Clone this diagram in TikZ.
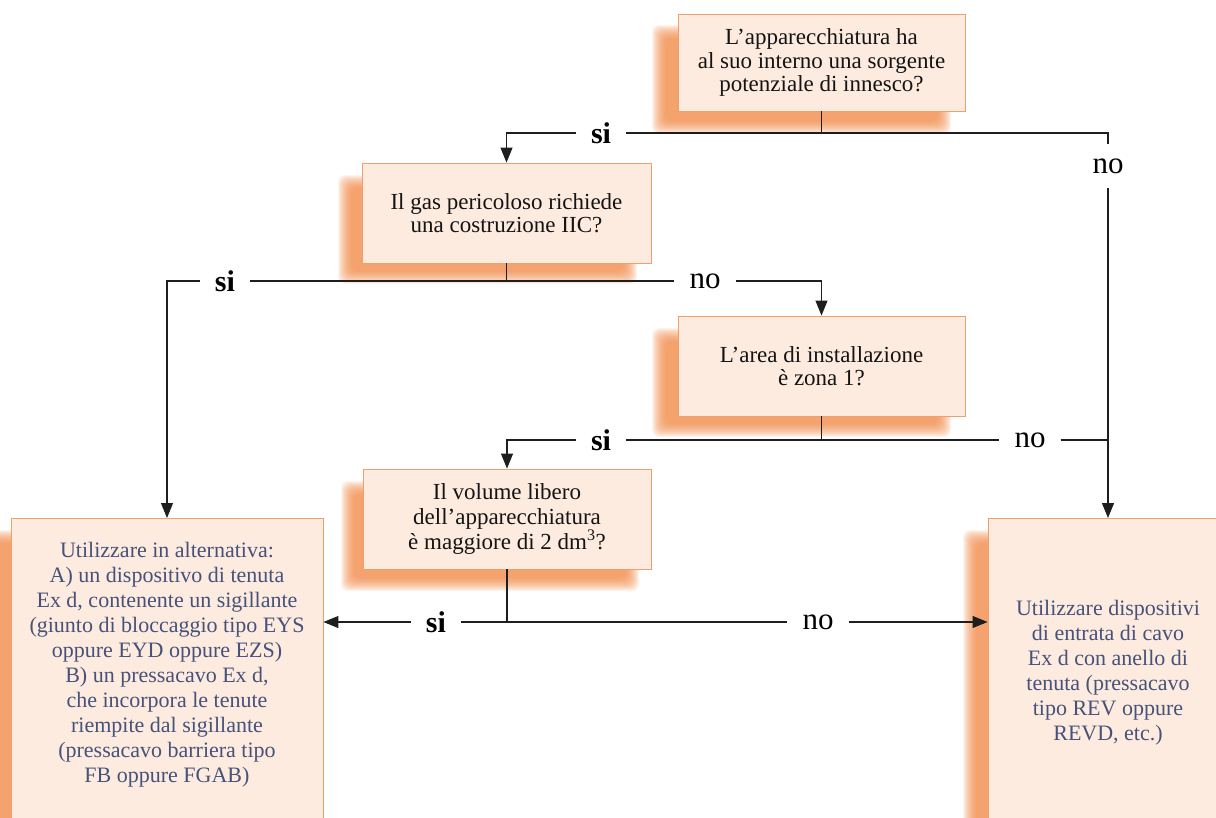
\documentclass[tikz,border=0pt]{standalone}
\usepackage{fontspec}
\setmainfont{Liberation Serif}
\usetikzlibrary{arrows.meta}
\definecolor{boxfill}{HTML}{FDEBDF}
\definecolor{boxline}{HTML}{F0A06A}
\definecolor{shadowc}{HTML}{F0843F}
\definecolor{bluetext}{HTML}{46527A}
\definecolor{linec}{HTML}{1E1E1E}
\newcommand{\softshadow}[4]{%
  \foreach \i in {0,...,13}{%
    \fill[shadowc, opacity=0.095, rounded corners=7pt] ({#1-3+\i},{#2-3+\i}) rectangle ({#3+3-\i},{#4+3-\i});
  }}
\tikzset{
  qbox/.style={draw=boxline, line width=0.9pt, fill=boxfill, inner sep=0pt, align=center,
    text=black!92, font=\fontsize{23}{23.5}\selectfont},
  endbox/.style={draw=boxline, line width=0.9pt, fill=boxfill, inner sep=0pt, anchor=north},
  endtext/.style={align=center, text=bluetext, font=\fontsize{22}{25}\selectfont, inner sep=0pt},
  lbl/.style={inner xsep=15pt, inner ysep=14pt, font=\fontsize{31}{31}\selectfont},
  silbl/.style={lbl, font=\fontsize{30}{30}\selectfont\bfseries},
  conn/.style={draw=linec, line width=1.1pt},
  arr/.style={conn, -{Triangle[length=15pt,width=12pt]}}
}
\begin{document}
\begin{tikzpicture}[x=1pt, y=-1pt]
\useasboundingbox (0,0) rectangle (1216,817);
\clip (0,0) rectangle (1216,817);
% shadows
\softshadow{655}{28}{948}{131}
\softshadow{341}{178}{634}{281}
\softshadow{655}{331}{948}{434}
\softshadow{344}{484}{636}{588}
\softshadow{-12}{533}{300}{840}
\softshadow{966}{533}{1230}{840}
% boxes
\node[qbox, minimum width=287pt, minimum height=97pt] (b1) at (821.5,62.5)
  {L’apparecchiatura ha\\al suo interno una sorgente\\potenziale di innesco?};
\node[qbox, minimum width=289pt, minimum height=100pt] (b2) at (506.5,213)
  {Il gas pericoloso richiede\\una costruzione IIC?};
\node[qbox, minimum width=287pt, minimum height=100pt] (b3) at (821.5,366)
  {L’area di installazione\\è zona 1?};
\node[qbox, minimum width=288pt, minimum height=100pt, font=\fontsize{23}{25}\selectfont] (b4) at (507,519)
  {Il volume libero\\dell’apparecchiatura\\è maggiore di 2 dm\textsuperscript{3}?};
\node[endbox, minimum width=312pt, minimum height=330pt] (b5) at (167,518) {};
\node[endbox, minimum width=240pt, minimum height=330pt] (b6) at (1108,518) {};
\node[endtext] (t5) at (167,665)
  {Utilizzare in alternativa:\\A) un dispositivo di tenuta\\Ex d, contenente un sigillante\\(giunto di bloccaggio tipo EYS\\oppure EYD oppure EZS)\\B) un pressacavo Ex d,\\che incorpora le tenute\\riempite dal sigillante\\(pressacavo barriera tipo\\FB oppure FGAB)};
\node[endtext] (t6) at (1108,673)
  {Utilizzare dispositivi\\di entrata di cavo\\Ex d con anello di\\tenuta (pressacavo\\tipo REV oppure\\REVD, etc.)};
% labels
\node[silbl] (si1) at (601,133) {si};
\node[lbl] (no1) at (1108,166) {no};
\node[silbl] (si2) at (225,281) {si};
\node[lbl] (no2) at (705,281) {no};
\node[silbl] (si3) at (601,440) {si};
\node[lbl] (no3) at (1030,440) {no};
\node[silbl] (si4) at (436,622) {si};
\node[lbl] (no4) at (818,622) {no};
% junctions
\coordinate (j1) at (b1.south |- si1);
\coordinate (c1) at (no1 |- si1);
\coordinate (j2) at (b2.south |- si2);
\coordinate (j3) at (b3.south |- si3);
\coordinate (c3) at (no1 |- no3);
\coordinate (j4) at (b4.south |- si4);
% connectors
\draw[conn] (b1.south) -- (j1) -- (si1);
\draw[arr] (si1) -| (b2.north);
\draw[conn] (j1) -- (c1) -- (no1);
\draw[arr] (no1) -- (b6.north);
\draw[conn] (b2.south) -- (j2) -- (si2);
\draw[arr] (si2) -| (b5.north);
\draw[conn] (j2) -- (no2);
\draw[arr] (no2) -| (b3.north);
\draw[conn] (b3.south) -- (j3) -- (si3);
\draw[arr] (si3) -| (b4.north);
\draw[conn] (j3) -- (no3);
\draw[conn] (no3) -- (c3);
\draw[conn] (b4.south) -- (j4) -- (si4);
\draw[arr] (si4) -- (si4 -| b5.east);
\draw[conn] (j4) -- (no4);
\draw[arr] (no4) -- (no4 -| b6.west);
\end{tikzpicture}
\end{document}
